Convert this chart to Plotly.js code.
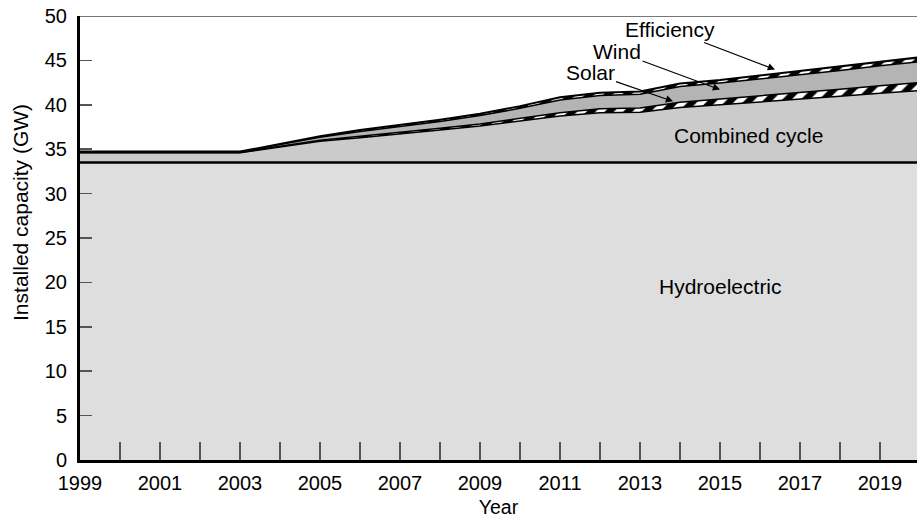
<!DOCTYPE html>
<html>
<head>
<meta charset="utf-8">
<script src="https://cdn.plot.ly/plotly-3.0.1.min.js"></script>
<style>html,body{margin:0;padding:0;background:#fff;}#chart{width:917px;height:518px;}</style>
</head>
<body>
<div id="chart"></div>
<script>
const years = [1999,2000,2001,2002,2003,2004,2005,2006,2007,2008,2009,2010,2011,2012,2013,2014,2015,2016,2017,2018,2019,2020];
const hydroelectric = [33.5,33.5,33.5,33.5,33.5,33.5,33.5,33.5,33.5,33.5,33.5,33.5,33.5,33.5,33.5,33.5,33.5,33.5,33.5,33.5,33.5,33.5];
const combinedCycle = [1.1,1.1,1.1,1.1,1.1,1.75,2.4,2.8,3.2,3.65,4.1,4.65,5.25,5.6,5.65,6.2,6.5,6.8,7.15,7.45,7.8,8.1];
const solar = [0.02,0.02,0.02,0.02,0.02,0.08,0.12,0.15,0.18,0.22,0.25,0.3,0.35,0.45,0.5,0.6,0.65,0.7,0.75,0.8,0.85,0.9];
const wind = [0.06,0.06,0.06,0.06,0.06,0.19,0.33,0.55,0.7,0.75,0.95,1.15,1.45,1.5,1.55,1.75,1.8,1.9,2.0,2.1,2.25,2.35];
const efficiency = [0.05,0.05,0.05,0.05,0.05,0.08,0.1,0.15,0.15,0.2,0.2,0.25,0.3,0.3,0.3,0.35,0.35,0.4,0.4,0.45,0.45,0.5];

const FONT = '"Liberation Sans", Arial, Helvetica, sans-serif';
const hatch = {shape:'/', bgcolor:'#ffffff', fgcolor:'#000000', size:13, solidity:0.5};

const traces = [
  {x: years, y: hydroelectric, name:'Hydroelectric', stackgroup:'one', mode:'lines',
   line:{color:'#000', width:2.5}, fillcolor:'#dedede'},
  {x: years, y: combinedCycle, name:'Combined cycle', stackgroup:'one', mode:'lines',
   line:{color:'#000', width:1.5}, fillcolor:'#cbcbcb'},
  {x: years, y: solar, name:'Solar', stackgroup:'one', mode:'lines',
   line:{color:'#000', width:1.5}, fillcolor:'#ffffff', fillpattern: hatch},
  {x: years, y: wind, name:'Wind', stackgroup:'one', mode:'lines',
   line:{color:'#000', width:1.5}, fillcolor:'#b4b4b4'},
  {x: years, y: efficiency, name:'Efficiency', stackgroup:'one', mode:'lines',
   line:{color:'#000', width:2}, fillcolor:'#ffffff', fillpattern: hatch}
];

function arrowNote(text, hx, hy, tx, ty) {
  return {text: text, x: hx, y: hy, ax: tx, ay: ty, axref:'x', ayref:'y', xref:'x', yref:'y',
    showarrow:true, arrowhead:2, arrowsize:1.2, arrowwidth:1.2, arrowcolor:'#000', standoff:0,
    font:{family:FONT, size:21, color:'#000'}};
}

const layout = {
  width: 917, height: 518,
  margin: {l:80, r:0, t:16, b:58, pad:0},
  paper_bgcolor:'#ffffff', plot_bgcolor:'#ffffff',
  showlegend:false,
  font:{family:FONT, size:19, color:'#000'},
  xaxis: {
    range:[1999, 2019.925], tick0:1999, dtick:2, ticks:'inside', ticklen:18, tickwidth:1.5, tickcolor:'#555',
    minor:{tick0:1999, dtick:1, ticks:'inside', ticklen:18, tickwidth:1.5, tickcolor:'#555'},
    showline:true, linecolor:'#000', linewidth:3, showgrid:false, zeroline:false,
    tickfont:{family:FONT, size:20, color:'#000'}, ticklabelstandoff:3,
    title:{text:'Year', font:{family:FONT, size:19.5, color:'#000'}, standoff:8},
    automargin:false
  },
  yaxis: {
    range:[0, 50], tick0:0, dtick:5, ticks:'inside', ticklen:12, tickwidth:1.5, tickcolor:'#555',
    showline:true, linecolor:'#000', linewidth:3, showgrid:false, zeroline:false,
    tickfont:{family:FONT, size:20, color:'#000'}, ticklabelstandoff:6,
    automargin:false
  },
  shapes: [
    {type:'line', xref:'paper', yref:'y', x0:0, x1:1, y0:50, y1:50, line:{color:'#777', width:2}}
  ],
  annotations: [
    {text:'Installed capacity (GW)', xref:'paper', yref:'paper', x:-0.0705, y:0.5586,
     xanchor:'center', yanchor:'middle', textangle:-90, showarrow:false,
     font:{family:FONT, size:21, color:'#000'}},
    arrowNote('Efficiency', 2016.375, 43.97, 2013.75, 48.48),
    arrowNote('Wind', 2015.0, 41.71, 2012.425, 46.0),
    arrowNote('Solar', 2013.825, 40.39, 2011.75, 43.63),
    {text:'Combined cycle', x:2015.7, y:36.53, xref:'x', yref:'y', showarrow:false,
     font:{family:FONT, size:21, color:'#000'}},
    {text:'Hydroelectric', x:2015.0, y:19.5, xref:'x', yref:'y', showarrow:false,
     font:{family:FONT, size:21, color:'#000'}}
  ]
};

Plotly.newPlot('chart', traces, layout, {displayModeBar:false, staticPlot:true});
</script>
</body>
</html>
